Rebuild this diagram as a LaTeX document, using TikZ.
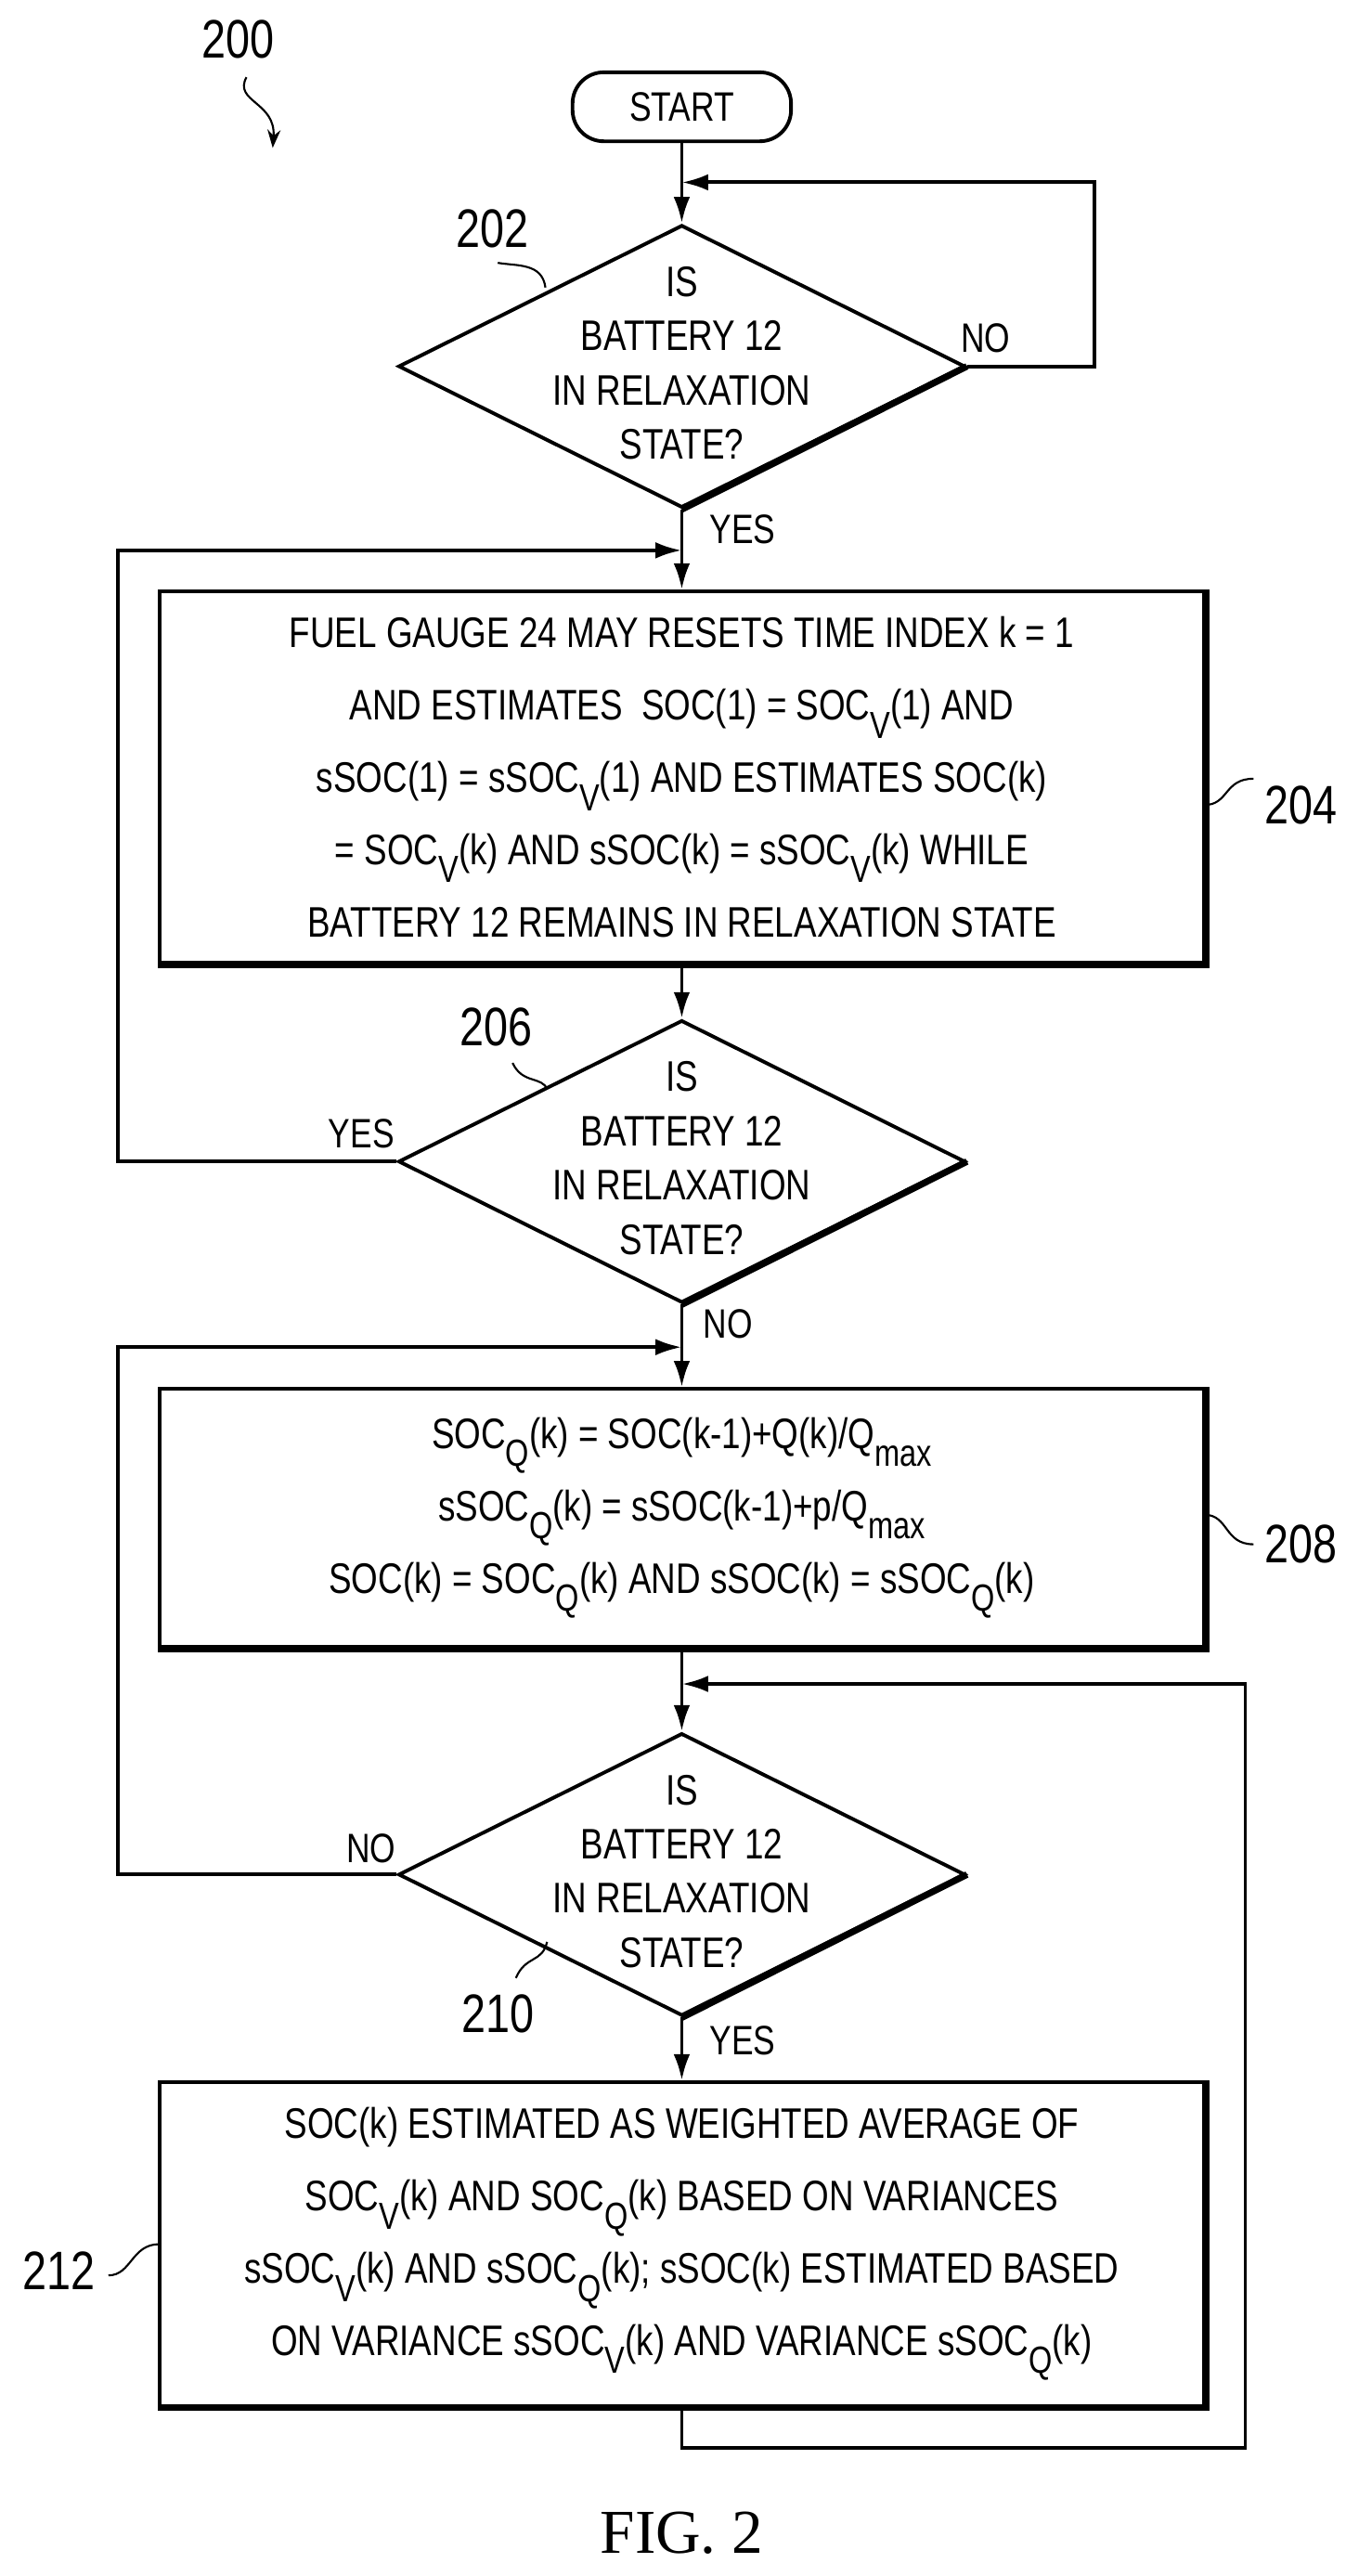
\documentclass[tikz,border=0pt]{standalone}
\usepackage{fontspec}
\setmainfont{Liberation Sans}[FakeStretch=0.8]
\newfontfamily\figfont{Liberation Serif}
\usetikzlibrary{shapes.geometric,arrows.meta}
\newcommand{\sbs}[1]{\raisebox{-11pt}{\fontsize{23}{23}\selectfont #1}}
\begin{document}
\begin{tikzpicture}[x=1pt,y=-1pt,line width=2.2pt,
  every node/.style={font=\fontsize{25}{25}\selectfont},
  box/.style={draw,rectangle,minimum width=636pt,inner sep=0pt},
  dia/.style={draw,diamond,minimum width=345pt,minimum height=172pt,inner sep=0pt},
  txt/.style={align=center,font=\fontsize{26}{33}\selectfont},
  btxt/.style={align=center,font=\fontsize{26}{44}\selectfont},
  lab/.style={font=\fontsize{33}{33}\selectfont},
  arr/.style={-{Latex[length=16pt,width=10pt]}},
  lead/.style={line width=1.2pt}]
\useasboundingbox (0,0) rectangle (827,1568);
\node[lab] (l200) at (145,24) {200};
\draw[lead,-{Stealth[length=11pt,width=8pt]}] (150,47) .. controls (142,62) and (168,62) .. (166,90);
\node[draw,rounded corners=19pt,minimum width=133pt,minimum height=42pt,inner sep=0pt] (start) at (415,65) {START};
\node[dia] (d1) at (415,223) {};
\node[txt] at (415,221) {IS\\BATTERY 12\\IN RELAXATION\\STATE?};
\draw[line width=4pt] (d1.east) -- (d1.south);
\node[lab] (l202) at (300,139) {202};
\draw[lead] (303,160) .. controls (315,162) and (330,160) .. (332,175);
\node (no1) at (600,206) {NO};
\node (yes1) at (452,322) {YES};
\node[box,minimum height=226pt] (b204) at (415,473) {};
\node[btxt] at (415,473) {FUEL GAUGE 24 MAY RESETS TIME INDEX k = 1\\AND ESTIMATES\ \ SOC(1) = SOC\sbs{V}(1) AND\\sSOC(1) = sSOC\sbs{V}(1) AND ESTIMATES SOC(k)\\= SOC\sbs{V}(k) AND sSOC(k) = sSOC\sbs{V}(k) WHILE\\BATTERY 12 REMAINS IN RELAXATION STATE};
\draw[line width=4pt] (b204.north east) -- (b204.south east) -- (b204.south west);
\node[lab] (l204) at (792,490) {204};
\draw[lead] (733,490) .. controls (748,490) and (745,474) .. (763,474);
\node[dia] (d2) at (415,707) {};
\node[txt] at (415,705) {IS\\BATTERY 12\\IN RELAXATION\\STATE?};
\draw[line width=4pt] (d2.east) -- (d2.south);
\node[lab] (l206) at (302,625) {206};
\draw[lead] (312,647) .. controls (318,660) and (330,655) .. (333,663);
\node (yes2) at (220,690) {YES};
\node (no2) at (443,806) {NO};
\node[box,minimum height=157pt] (b208) at (415,924) {};
\node[btxt] at (415,924) {SOC\sbs{Q}(k) = SOC(k-1)+Q(k)/Q\sbs{max}\\sSOC\sbs{Q}(k) = sSOC(k-1)+p/Q\sbs{max}\\SOC(k) = SOC\sbs{Q}(k) AND sSOC(k) = sSOC\sbs{Q}(k)};
\draw[line width=4pt] (b208.north east) -- (b208.south east) -- (b208.south west);
\node[lab] (l208) at (792,940) {208};
\draw[lead] (733,922) .. controls (748,922) and (745,940) .. (763,940);
\node[dia] (d3) at (415,1141) {};
\node[txt] at (415,1139) {IS\\BATTERY 12\\IN RELAXATION\\STATE?};
\draw[line width=4pt] (d3.east) -- (d3.south);
\node[lab] (l210) at (303,1226) {210};
\draw[lead] (314,1204) .. controls (320,1190) and (330,1195) .. (333,1182);
\node (no3) at (226,1125) {NO};
\node (yes3) at (452,1242) {YES};
\node[box,minimum height=197pt] (b212) at (415,1366) {};
\node[btxt] at (415,1366) {SOC(k) ESTIMATED AS WEIGHTED AVERAGE OF\\SOC\sbs{V}(k) AND SOC\sbs{Q}(k) BASED ON VARIANCES\\sSOC\sbs{V}(k) AND sSOC\sbs{Q}(k); sSOC(k) ESTIMATED BASED\\ON VARIANCE sSOC\sbs{V}(k) AND VARIANCE sSOC\sbs{Q}(k)};
\draw[line width=4pt] (b212.north east) -- (b212.south east) -- (b212.south west);
\node[lab] (l212) at (36,1382) {212};
\draw[lead] (66,1385) .. controls (80,1385) and (80,1366) .. (97,1366);
\node[font=\figfont\fontsize{38}{38}\selectfont] (fig) at (415,1542) {FIG. 2};
\coordinate (c1) at (415,111);
\coordinate (c2) at (415,335);
\coordinate (c3) at (415,820);
\coordinate (c4) at (415,1025);
\draw (start.south) -- (c1);
\draw[arr] (c1) -- (d1.north);
\draw[arr] (d1.east) -- (666,223) -- (666,111) -- (c1);
\draw (d1.south) -- (c2);
\draw[arr] (c2) -- (b204.north);
\draw[arr] (b204.south) -- (d2.north);
\draw[arr] (d2.west) -- (72,707) -- (72,335) -- (c2);
\draw (d2.south) -- (c3);
\draw[arr] (c3) -- (b208.north);
\draw[arr] (d3.west) -- (72,1141) -- (72,820) -- (c3);
\draw (b208.south) -- (c4);
\draw[arr] (c4) -- (d3.north);
\draw[arr] (d3.south) -- (b212.north);
\draw[arr] (b212.south) -- (415,1490) -- (758,1490) -- (758,1025) -- (c4);
\end{tikzpicture}
\end{document}
